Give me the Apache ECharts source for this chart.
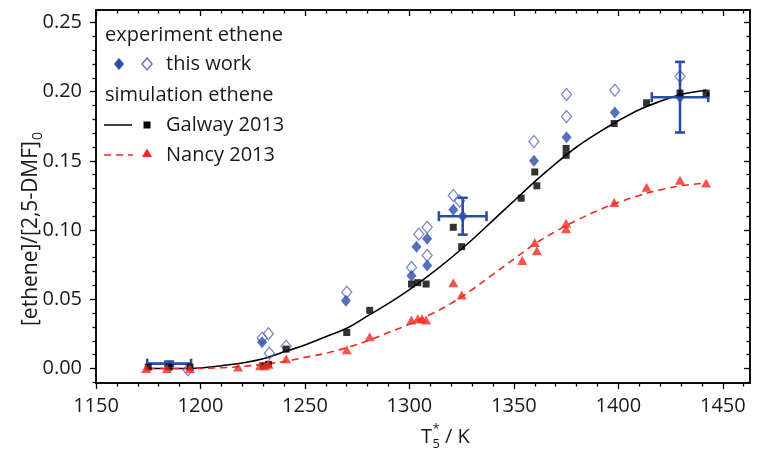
<!DOCTYPE html>
<html>
<head>
<meta charset="utf-8">
<script src="https://cdn.jsdelivr.net/npm/echarts@6/dist/echarts.min.js"></script>
<style>
  html, body { margin: 0; padding: 0; background: #ffffff; }
  #chart { width: 757px; height: 449px; }
</style>
</head>
<body>
<div id="chart"></div>
<script>
// ---- data ----
// axis tick labels
const xTickLabels = [1150, 1200, 1250, 1300, 1350, 1400, 1450];
const yTickLabels = [0.00, 0.05, 0.10, 0.15, 0.20, 0.25];

// Galway 2013 model, smooth curve (temperature / mole fraction ratio)
const galwayCurveT = [1175, 1185, 1195, 1200, 1210, 1220, 1230, 1240, 1250, 1260, 1270, 1280, 1290, 1300, 1310, 1320, 1330, 1340, 1350, 1360, 1370, 1380, 1390, 1400, 1410, 1420, 1430, 1442];
const galwayCurveY = [0, 0, 0, 0.0003, 0.002, 0.004, 0.007, 0.012, 0.017, 0.023, 0.029, 0.038, 0.047, 0.057, 0.068, 0.080, 0.093, 0.107, 0.121, 0.135, 0.148, 0.160, 0.170, 0.179, 0.187, 0.193, 0.198, 0.201];

// Nancy 2013 model, smooth curve
const nancyCurveT = [1175, 1185, 1195, 1210, 1220, 1230, 1240, 1250, 1260, 1270, 1280, 1290, 1300, 1310, 1320, 1330, 1340, 1350, 1360, 1370, 1380, 1390, 1400, 1410, 1420, 1430, 1442];
const nancyCurveY = [0, 0, 0, 0.0005, 0.0015, 0.003, 0.005, 0.008, 0.011, 0.015, 0.020, 0.026, 0.032, 0.039, 0.047, 0.057, 0.068, 0.079, 0.090, 0.099, 0.107, 0.114, 0.120, 0.125, 0.129, 0.132, 0.134];

// Galway 2013 simulated points at the experimental conditions
const galwayPoints = [
  [1175, 0.001], [1185, 0.001], [1195, 0.001], [1230, 0.002], [1232.5, 0.003],
  [1241, 0.014], [1270, 0.026], [1281, 0.042], [1301, 0.061], [1304, 0.062],
  [1308, 0.061], [1321, 0.102], [1325, 0.088], [1353.5, 0.123], [1360, 0.142],
  [1361, 0.132], [1375, 0.154], [1375, 0.159], [1398, 0.177], [1413.5, 0.192],
  [1429.5, 0.199], [1442, 0.199]
];

// Nancy 2013 simulated points at the experimental conditions
const nancyPoints = [
  [1174, 0.000], [1184, 0.000], [1195, 0.000], [1218, 0.001], [1228.5, 0.002],
  [1231, 0.002], [1232.5, 0.003], [1241, 0.007], [1270, 0.0135], [1281, 0.023],
  [1301, 0.035], [1304, 0.036], [1306, 0.036], [1308, 0.035], [1321, 0.062],
  [1325, 0.053], [1354, 0.078], [1360, 0.091], [1361, 0.085], [1375, 0.105],
  [1375, 0.101], [1398, 0.120], [1413.5, 0.131], [1429.5, 0.136], [1442, 0.134]
];

// this work, filled symbols
const workFilled = [
  [1229.5, 0.019], [1269.6, 0.049], [1301, 0.067], [1303.4, 0.088], [1308.5, 0.0937],
  [1308.5, 0.0744], [1321, 0.1147], [1325.5, 0.110], [1359.6, 0.150], [1375.2, 0.167],
  [1398.3, 0.185], [1429.5, 0.196]
];

// this work, open symbols
const workOpen = [
  [1194, -0.001], [1229.5, 0.022], [1232.5, 0.025], [1233, 0.011], [1241, 0.016],
  [1270, 0.055], [1301, 0.073], [1304.5, 0.097], [1308.5, 0.102], [1308.5, 0.0816],
  [1321, 0.125], [1324, 0.121], [1359.6, 0.164], [1375.2, 0.182], [1375.2, 0.198],
  [1398.3, 0.201], [1429.5, 0.211]
];

// representative uncertainties: [T, ratio, ±T, ±ratio]
const errorBars = [
  [1185, 0.0035, 10.5, 0.0015],
  [1325.5, 0.110, 11.4, 0.0133],
  [1429.5, 0.196, 13.5, 0.0255]
];

// ---- chart ----
const FONT = 'Open Sans';
const FS = 20;
const TEXT = '#1a1a1a';
const BLUE = '#2a4ea6';
const BLUE_OPEN = '#5a6cc4';
const RED = '#ee2a1f';

const X_MIN = 1150, X_MAX = 1463;
const Y_MIN = -0.0105, Y_MAX = 0.259;

function minorBetween(majors, step, count, lo, hi) {
  const out = [];
  const first = majors[0] - step;
  for (let v = first; v <= hi + 1e-9; v += step / (count + 1)) {
    const r = Math.round(v * 1e6) / 1e6;
    if (r < lo - 1e-9) continue;
    if (majors.some(m => Math.abs(m - r) < 1e-7)) continue;
    out.push(r);
  }
  return out;
}
const xMinor = minorBetween(xTickLabels, 50, 4, X_MIN, X_MAX);
const yMinor = minorBetween(yTickLabels, 0.05, 4, Y_MIN, Y_MAX);

const gridRect = { left: 96, right: 7, top: 10, bottom: 66, containLabel: false };
const lineStyle = { color: '#000', width: 1.5 };

function xAx(grid, position, ticks, len, inside, labels) {
  return {
    type: 'value', gridIndex: grid, position: position, min: X_MIN, max: X_MAX,
    axisLine: { show: true, onZero: false, lineStyle: lineStyle },
    axisTick: { show: true, inside: inside, length: len, customValues: ticks, lineStyle: { color: '#000', width: 1.3 } },
    axisLabel: labels ? {
      show: true, customValues: ticks, margin: 13, color: TEXT, fontFamily: FONT, fontSize: FS,
      formatter: v => String(Math.round(v))
    } : { show: false },
    splitLine: { show: false }, minorTick: { show: false }
  };
}
function yAx(grid, position, ticks, len, inside, labels) {
  return {
    type: 'value', gridIndex: grid, position: position, min: Y_MIN, max: Y_MAX,
    axisLine: { show: true, onZero: false, lineStyle: lineStyle },
    axisTick: { show: true, inside: inside, length: len, customValues: ticks, lineStyle: { color: '#000', width: 1.3 } },
    axisLabel: labels ? {
      show: true, customValues: ticks, margin: 14, color: TEXT, fontFamily: FONT, fontSize: FS,
      formatter: v => v.toFixed(2)
    } : { show: false },
    splitLine: { show: false }, minorTick: { show: false }
  };
}

function zipXY(xs, ys) { return xs.map((x, i) => [x, ys[i]]); }

function textWidth(str, size) {
  const ctx = document.createElement('canvas').getContext('2d');
  ctx.font = size + 'px "' + FONT + '"';
  return ctx.measureText(str).width;
}

const errorBarSeries = {
  type: 'custom',
  xAxisIndex: 0, yAxisIndex: 0,
  z: 5,
  data: errorBars,
  encode: { x: 0, y: 1 },
  renderItem: function (params, api) {
    const x = api.value(0), y = api.value(1), dx = api.value(2), dy = api.value(3);
    const c = api.coord([x, y]);
    const l = api.coord([x - dx, y]);
    const r = api.coord([x + dx, y]);
    const t = api.coord([x, y + dy]);
    const b = api.coord([x, y - dy]);
    const cap = 5;
    const st = { stroke: BLUE, lineWidth: 2.6, fill: null };
    const seg = (x1, y1, x2, y2) => ({ type: 'line', shape: { x1, y1, x2, y2 }, style: st });
    return {
      type: 'group',
      children: [
        seg(l[0], c[1], r[0], c[1]),
        seg(l[0], c[1] - cap, l[0], c[1] + cap),
        seg(r[0], c[1] - cap, r[0], c[1] + cap),
        seg(c[0], t[1], c[0], b[1]),
        seg(c[0] - cap, t[1], c[0] + cap, t[1]),
        seg(c[0] - cap, b[1], c[0] + cap, b[1])
      ]
    };
  }
};

// legend drawn as plain graphics
const LX = 105, SYM1 = 119, SYM2 = 147, TX = 166;
const legendText = (text, x, y) => ({
  type: 'text', x: x, y: y, 
  style: { text: text, fontFamily: FONT, fontSize: FS, fill: TEXT, verticalAlign: 'middle' }
});
const legend = [
  legendText('experiment ethene', LX, 35),
  { type: 'polygon', shape: { points: [[SYM1, 58], [SYM1 + 5, 64], [SYM1, 70], [SYM1 - 5, 64]] }, style: { fill: BLUE } },
  { type: 'polygon', shape: { points: [[SYM2, 58], [SYM2 + 5, 64], [SYM2, 70], [SYM2 - 5, 64]] }, style: { fill: 'none', stroke: BLUE_OPEN, lineWidth: 1.3 } },
  legendText('this work', TX, 64),
  legendText('simulation ethene', LX, 95),
  { type: 'line', shape: { x1: 104, y1: 125, x2: 132, y2: 125 }, style: { stroke: '#000', lineWidth: 1.5 } },
  { type: 'rect', shape: { x: 143.5, y: 121.5, width: 7, height: 7 }, style: { fill: '#000' } },
  legendText('Galway 2013', TX, 125),
  { type: 'line', shape: { x1: 104, y1: 155, x2: 133, y2: 155 }, style: { stroke: RED, lineWidth: 1.5, lineDash: [7, 5] } },
  { type: 'polygon', shape: { points: [[147, 148.5], [152, 157], [142, 157]] }, style: { fill: RED } },
  legendText('Nancy 2013', TX, 155)
];

// axis titles
const yTitleMain = '[ethene]/[2,5-DMF]';
const yTitleSize = 21;
const yTitleW = textWidth(yTitleMain, yTitleSize);
const axisTitles = [
  {
    type: 'group', x: 31, y: 326, rotation: Math.PI / 2,
    children: [
      { type: 'text', x: 0, y: 0, style: { text: yTitleMain, fontFamily: FONT, fontSize: yTitleSize, fill: TEXT, verticalAlign: 'middle' } },
      { type: 'text', x: yTitleW + 1, y: 7, style: { text: '0', fontFamily: FONT, fontSize: 14, fill: TEXT, verticalAlign: 'middle' } }
    ]
  },
  {
    type: 'group', x: 421, y: 437,
    children: [
      { type: 'text', x: 0, y: 0, style: { text: 'T', fontFamily: FONT, fontSize: FS, fill: TEXT, verticalAlign: 'middle' } },
      { type: 'text', x: 11.5, y: -8, style: { text: '*', fontFamily: FONT, fontSize: 13, fill: TEXT, verticalAlign: 'middle' } },
      { type: 'text', x: 11.5, y: 7, style: { text: '5', fontFamily: FONT, fontSize: 13, fill: TEXT, verticalAlign: 'middle' } },
      { type: 'text', x: 24, y: 0, style: { text: '/ K', fontFamily: FONT, fontSize: FS, fill: TEXT, verticalAlign: 'middle' } }
    ]
  }
];

const option = {
  backgroundColor: '#ffffff',
  animation: false,
  grid: [Object.assign({}, gridRect), Object.assign({}, gridRect)],
  xAxis: [
    xAx(0, 'bottom', xTickLabels, 6, false, true),
    xAx(0, 'top', xTickLabels, 6, true, false),
    xAx(1, 'bottom', xMinor, 3.5, false, false),
    xAx(1, 'top', xMinor, 3.5, true, false)
  ],
  yAxis: [
    yAx(0, 'left', yTickLabels, 6, false, true),
    yAx(0, 'right', yTickLabels, 6, true, false),
    yAx(1, 'left', yMinor, 3.5, false, false),
    yAx(1, 'right', yMinor, 3.5, true, false)
  ],
  series: [
    {
      name: 'Galway 2013 model', type: 'line', xAxisIndex: 0, yAxisIndex: 0,
      data: zipXY(galwayCurveT, galwayCurveY), smooth: 0.4, showSymbol: false, symbol: 'none',
      lineStyle: { color: '#000', width: 1.6 }, z: 2
    },
    {
      name: 'Nancy 2013 model', type: 'line', xAxisIndex: 0, yAxisIndex: 0,
      data: zipXY(nancyCurveT, nancyCurveY), smooth: 0.4, showSymbol: false, symbol: 'none',
      lineStyle: { color: RED, width: 1.6, type: [7, 5] }, z: 2
    },
    {
      name: 'this work (open)', type: 'scatter', xAxisIndex: 0, yAxisIndex: 0,
      data: workOpen, symbol: 'diamond', symbolSize: [10, 12],
      itemStyle: { color: 'rgba(255,255,255,0)', borderColor: BLUE_OPEN, borderWidth: 1.3 }, z: 3
    },
    {
      name: 'this work', type: 'scatter', xAxisIndex: 0, yAxisIndex: 0,
      data: workFilled, symbol: 'diamond', symbolSize: [10, 12],
      itemStyle: { color: BLUE }, z: 4
    },
    errorBarSeries,
    {
      name: 'Galway 2013', type: 'scatter', xAxisIndex: 0, yAxisIndex: 0,
      data: galwayPoints, symbol: 'rect', symbolSize: 7,
      itemStyle: { color: '#000' }, z: 6
    },
    {
      name: 'Nancy 2013', type: 'scatter', xAxisIndex: 0, yAxisIndex: 0,
      data: nancyPoints, symbol: 'triangle', symbolSize: [10, 9],
      itemStyle: { color: RED }, z: 7
    }
  ],
  graphic: legend.concat(axisTitles)
};

const chart = echarts.init(document.getElementById('chart'), null, { renderer: 'canvas' });
chart.setOption(option);
</script>
</body>
</html>
